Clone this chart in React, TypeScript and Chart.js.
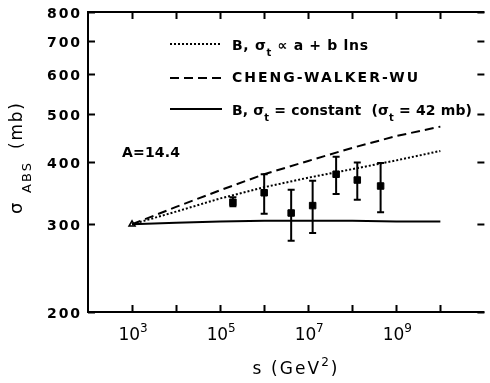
import React, { useEffect, useRef } from "react";
import { Chart, registerables } from "chart.js";

Chart.register(...registerables);

// ---- data ----
const curveS = [1e3, 1e4, 1e5, 1e6, 1e7, 1e8, 1e9, 1e10];
const dottedVals = [300, 318, 338, 356, 372, 387, 403, 421];
const dashedVals = [300, 325, 351, 378, 402, 427, 451, 471];
const solidVals = [300, 302, 304, 305, 305, 305, 304, 304];

const pointS = [1.95e5, 1.0e6, 4.1e6, 1.26e7, 4.3e7, 1.3e8, 4.4e8];
const pointVals = [332, 347, 316, 327, 378, 368, 358];
const errHigh = [340, 378, 352, 367, 410, 399, 398];
const errLow = [326, 315, 278, 288, 345, 336, 317];

const openS = [1e3];
const openVals = [300];

const yTickVals = [200, 300, 400, 500, 600, 700, 800];
const xLabelExps = [3, 5, 7, 9];
const xTickExps = [3, 4, 5, 6, 7, 8, 9, 10];

const FONT = "'DejaVu Sans', sans-serif";

type Part = { t: string; k?: "sub" | "sup" };

function drawRich(
  ctx: CanvasRenderingContext2D,
  parts: Part[],
  x: number,
  y: number,
  o: { size: number; weight?: string; align?: "left" | "right" | "center"; width?: number; subSize?: number; subDy?: number; supDy?: number }
) {
  const weight = o.weight || "bold";
  const subSize = o.subSize || Math.round(o.size * 0.72);
  const fontFor = (p: Part) => `${weight} ${p.k ? subSize : o.size}px ${FONT}`;
  ctx.save();
  (ctx as any).letterSpacing = "0px";
  let natural = 0;
  let nChars = 0;
  const widths: number[] = [];
  for (const p of parts) {
    ctx.font = fontFor(p);
    const w = ctx.measureText(p.t).width;
    widths.push(w);
    natural += w;
    nChars += [...p.t].length;
  }
  let sp = 0;
  if (o.width !== undefined && nChars > 1) sp = (o.width - natural) / (nChars - 1);
  const total = natural + sp * (nChars - 1);
  let cx = x;
  if (o.align === "right") cx = x - total;
  else if (o.align === "center") cx = x - total / 2;
  ctx.textAlign = "left";
  ctx.textBaseline = "alphabetic";
  ctx.fillStyle = "#000";
  (ctx as any).letterSpacing = `${sp}px`;
  parts.forEach((p, i) => {
    ctx.font = fontFor(p);
    const dy = p.k === "sub" ? (o.subDy ?? o.size * 0.3) : p.k === "sup" ? -(o.supDy ?? o.size * 0.45) : 0;
    ctx.fillText(p.t, cx, y + dy);
    cx += widths[i] + sp * [...p.t].length;
  });
  ctx.restore();
}

const decorPlugin = {
  id: "decor",
  afterDatasetsDraw(chart: any) {
    const ctx: CanvasRenderingContext2D = chart.ctx;
    const xs = chart.scales.x;
    const ys = chart.scales.y;
    const { left, right, top, bottom } = chart.chartArea;
    ctx.save();
    ctx.strokeStyle = "#000";
    ctx.lineWidth = 2;
    ctx.lineCap = "butt";
    // axes frame
    ctx.beginPath();
    ctx.moveTo(left, top);
    ctx.lineTo(left, bottom);
    ctx.lineTo(right, bottom);
    ctx.moveTo(left - 1, top);
    ctx.lineTo(right, top);
    ctx.stroke();
    // x ticks (bottom and top, inward)
    ctx.beginPath();
    for (const e of xTickExps) {
      const px = Math.round(xs.getPixelForValue(Math.pow(10, e))) + 0.5;
      ctx.moveTo(px, bottom);
      ctx.lineTo(px, bottom - 7);
      ctx.moveTo(px, top);
      ctx.lineTo(px, top + 7);
    }
    // y ticks (left and right, inward)
    for (const v of yTickVals) {
      const py = Math.round(ys.getPixelForValue(v)) + 0.5;
      ctx.moveTo(left, py);
      ctx.lineTo(left + 7, py);
      ctx.moveTo(right, py);
      ctx.lineTo(right - 7, py);
    }
    ctx.stroke();

    // error bars
    ctx.beginPath();
    pointS.forEach((s, i) => {
      const px = xs.getPixelForValue(s);
      const yh = ys.getPixelForValue(errHigh[i]);
      const yl = ys.getPixelForValue(errLow[i]);
      ctx.moveTo(px, yh);
      ctx.lineTo(px, yl);
      ctx.moveTo(px - 3.5, yh);
      ctx.lineTo(px + 3.5, yh);
      ctx.moveTo(px - 3.5, yl);
      ctx.lineTo(px + 3.5, yl);
    });
    ctx.stroke();

    // y tick labels
    for (const v of yTickVals) {
      const py = ys.getPixelForValue(v);
      drawRich(ctx, [{ t: String(v) }], 80, py + 6, { size: 14, align: "right", width: 33 });
    }
    // x tick labels
    for (const e of xLabelExps) {
      const px = xs.getPixelForValue(Math.pow(10, e));
      drawRich(ctx, [{ t: "10" }, { t: String(e), k: "sup" }], px + 1, 340, {
        size: 17,
        weight: "normal",
        align: "center",
        width: 29,
        subSize: 12,
        supDy: 8.5,
      });
    }
    // x title
    drawRich(ctx, [{ t: "s (GeV" }, { t: "2", k: "sup" }, { t: ")" }], 295, 374, {
      size: 17,
      weight: "normal",
      align: "center",
      width: 85,
      subSize: 12,
      supDy: 8,
    });
    // y title (rotated); frame x = -screenY
    ctx.save();
    ctx.translate(22, 0);
    ctx.rotate(-Math.PI / 2);
    drawRich(ctx, [{ t: "σ" }], -214, 0, { size: 18, weight: "normal", align: "left" });
    drawRich(ctx, [{ t: "ABS" }], -193, 9, { size: 13, weight: "normal", align: "left", width: 30 });
    drawRich(ctx, [{ t: "(mb)" }], -149, 0, { size: 17, weight: "normal", align: "left", width: 46 });
    ctx.restore();

    // A = 14.4
    drawRich(ctx, [{ t: "A=14.4" }], 122, 157, { size: 14, align: "left", width: 58 });

    // legend samples
    ctx.lineWidth = 2;
    ctx.setLineDash([2, 2]);
    ctx.beginPath();
    ctx.moveTo(170, 44);
    ctx.lineTo(222, 44);
    ctx.stroke();
    ctx.setLineDash([9, 5]);
    ctx.beginPath();
    ctx.moveTo(170, 78);
    ctx.lineTo(222, 78);
    ctx.stroke();
    ctx.setLineDash([]);
    ctx.beginPath();
    ctx.moveTo(170, 109);
    ctx.lineTo(222, 109);
    ctx.stroke();

    // legend text
    drawRich(ctx, [{ t: "B, σ" }, { t: "t", k: "sub" }, { t: " ∝ a + b lns" }], 232, 50, {
      size: 14,
      align: "left",
      width: 136,
      subDy: 6,
    });
    drawRich(ctx, [{ t: "CHENG-WALKER-WU" }], 232, 82, { size: 14, align: "left", width: 186 });
    drawRich(
      ctx,
      [{ t: "B, σ" }, { t: "t", k: "sub" }, { t: " = constant  (σ" }, { t: "t", k: "sub" }, { t: " = 42 mb)" }],
      232,
      115,
      { size: 14, align: "left", width: 240, subDy: 6 }
    );
    ctx.restore();
  },
};

export default function App() {
  const ref = useRef<HTMLCanvasElement | null>(null);
  useEffect(() => {
    if (!ref.current) return;
    const mk = (vals: number[]) => curveS.map((s, i) => ({ x: s, y: vals[i] }));
    const chart = new Chart(ref.current, {
      type: "line",
      data: {
        datasets: [
          { data: mk(dottedVals), borderColor: "#000", borderWidth: 2, borderDash: [2, 2], pointRadius: 0, tension: 0 },
          { data: mk(dashedVals), borderColor: "#000", borderWidth: 2, borderDash: [9, 5], pointRadius: 0, tension: 0 },
          { data: mk(solidVals), borderColor: "#000", borderWidth: 2, pointRadius: 0, tension: 0 },
          {
            type: "scatter",
            data: pointS.map((s, i) => ({ x: s, y: pointVals[i] })),
            pointStyle: "rect",
            pointRadius: 4.6,
            backgroundColor: "#000",
            borderColor: "#000",
            borderWidth: 1,
          } as any,
          {
            type: "scatter",
            data: openS.map((s, i) => ({ x: s, y: openVals[i] })),
            pointStyle: "triangle",
            pointRadius: 3.5,
            backgroundColor: "#fff",
            borderColor: "#000",
            borderWidth: 1.5,
          } as any,
        ],
      },
      options: {
        animation: false,
        responsive: false,
        devicePixelRatio: 1,
        layout: { padding: { left: 88, right: 0, top: 12, bottom: 71 } },
        plugins: { legend: { display: false }, tooltip: { enabled: false } },
        scales: {
          x: { type: "logarithmic", min: 1e2, max: 1e11, display: false },
          y: { type: "logarithmic", min: 200, max: 800, display: false },
        },
      },
      plugins: [decorPlugin],
    });
    return () => chart.destroy();
  }, []);
  return (
    <div style={{ position: "absolute", left: 0, top: 0, width: 490, height: 383, background: "#fff" }}>
      <canvas ref={ref} width={490} height={383} />
    </div>
  );
}
